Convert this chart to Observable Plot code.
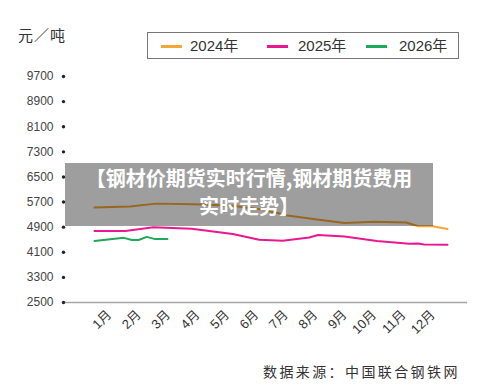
<!DOCTYPE html>
<html><head><meta charset="utf-8">
<script src="https://cdn.jsdelivr.net/npm/d3@7"></script>
<script src="https://cdn.jsdelivr.net/npm/@observablehq/plot@0.6"></script>
<style>
body{margin:0;background:#fff;font-family:"Liberation Sans","Noto Sans CJK SC",sans-serif;}
#wrap{position:relative;width:500px;height:390px;overflow:hidden;background:#fff;}
#chart{position:absolute;left:0;top:0;}
.unit{position:absolute;left:18px;top:24px;font-size:15px;color:#333;letter-spacing:1px;font-family:"Noto Sans CJK SC",sans-serif;}
.legend{position:absolute;left:147px;top:32px;width:310px;height:25px;border:1px solid #777;}
.legend .sw{position:absolute;top:12px;width:21px;height:2.5px;}
.legend .lt{position:absolute;top:3px;font-size:15px;line-height:20px;color:#333;}
.banner{position:absolute;left:65px;top:163px;width:368px;height:63px;background:rgba(0,0,0,0.38);color:#fff;font-weight:bold;font-size:20px;line-height:28px;text-align:center;padding-top:1px;box-sizing:border-box;font-family:"Noto Sans CJK SC",sans-serif;white-space:nowrap;}
.source{position:absolute;left:263px;top:361px;font-size:14px;color:#333;letter-spacing:2.4px;font-family:"Noto Sans CJK SC",sans-serif;}
</style></head><body>
<div id="wrap">
  <div id="chart"></div>
  <div class="unit">元／吨</div>
  <div class="legend" id="legend"></div>
  <div class="banner">【钢材价期货实时行情,钢材期货费用<br>实时走势】</div>
  <div class="source">数据来源：中国联合钢铁网</div>
</div>
<script>
const months = ["1月","2月","3月","4月","5月","6月","7月","8月","9月","10月","11月","12月"];
const seriesNames = ["2024年","2025年","2026年"];
const colors = ["#f5a733","#ea1890","#1ea95a"];
const yTicks = [2500,3300,4100,4900,5700,6500,7300,8100,8900,9700];

// positions in months from start of year (0..12), values in 元/吨
const x2024 = [0, 1.2, 2.1, 3.4, 4.7, 5.6, 6.2, 6.5, 7.5, 8.5, 9.5, 10.6, 11.0, 11.5, 12];
const v2024 = [5530, 5560, 5650, 5630, 5580, 5470, 5360, 5280, 5150, 5030, 5070, 5050, 4930, 4930, 4840];

const x2025 = [0, 1.05, 2.0, 3.3, 4.7, 5.6, 6.4, 7.3, 7.6, 8.5, 9.6, 10.7, 11.0, 11.2, 12];
const v2025 = [4780, 4780, 4900, 4850, 4680, 4500, 4470, 4570, 4650, 4600, 4460, 4370, 4380, 4350, 4340];

const x2026 = [0, 1.0, 1.27, 1.5, 1.78, 2.06, 2.48];
const v2026 = [4460, 4560, 4490, 4490, 4590, 4520, 4520];

const monthCenters = months.map((m, i) => i + 0.5);

const chart = Plot.plot({
  width: 500,
  height: 390,
  marginTop: 76,
  marginBottom: 88,
  marginLeft: 63,
  marginRight: 33,
  x: {domain: [0, 12], insetLeft: 31, insetRight: 20},
  y: {domain: [2500, 9700]},
  style: {fontFamily: "Liberation Sans, Noto Sans CJK SC, sans-serif", color: "#333", background: "transparent"},
  marks: [
    Plot.axisY(yTicks, {tickSize: 0, tickPadding: 10, fontSize: 12, fill: "#444", tickFormat: d => String(d)}),
    Plot.axisX(monthCenters, {tickSize: 0, tickRotate: -45, tickPadding: 10, fontSize: 13, fill: "#333",
      tickFormat: d => months[Math.floor(d)]}),
    Plot.ruleY([2500], {stroke: "#a8a8a8", strokeWidth: 1.5}),
    Plot.dot(yTicks, {y: d => d, frameAnchor: "left", r: 1.7, fill: "#222", stroke: null}),
    Plot.line(v2024, {x: x2024, y: d => d, stroke: colors[0], strokeWidth: 2}),
    Plot.line(v2025, {x: x2025, y: d => d, stroke: colors[1], strokeWidth: 2}),
    Plot.line(v2026, {x: x2026, y: d => d, stroke: colors[2], strokeWidth: 2})
  ]
});
document.getElementById("chart").appendChild(chart);

// legend built from series names and colors
const legendPos = [[13, 42], [119, 150], [218, 251]];
const lg = document.getElementById("legend");
seriesNames.forEach((n, i) => {
  const sw = document.createElement("div");
  sw.className = "sw";
  sw.style.left = legendPos[i][0] + "px";
  sw.style.background = colors[i];
  lg.appendChild(sw);
  const t = document.createElement("div");
  t.className = "lt";
  t.style.left = legendPos[i][1] + "px";
  t.textContent = n;
  lg.appendChild(t);
});
</script>
</body></html>
